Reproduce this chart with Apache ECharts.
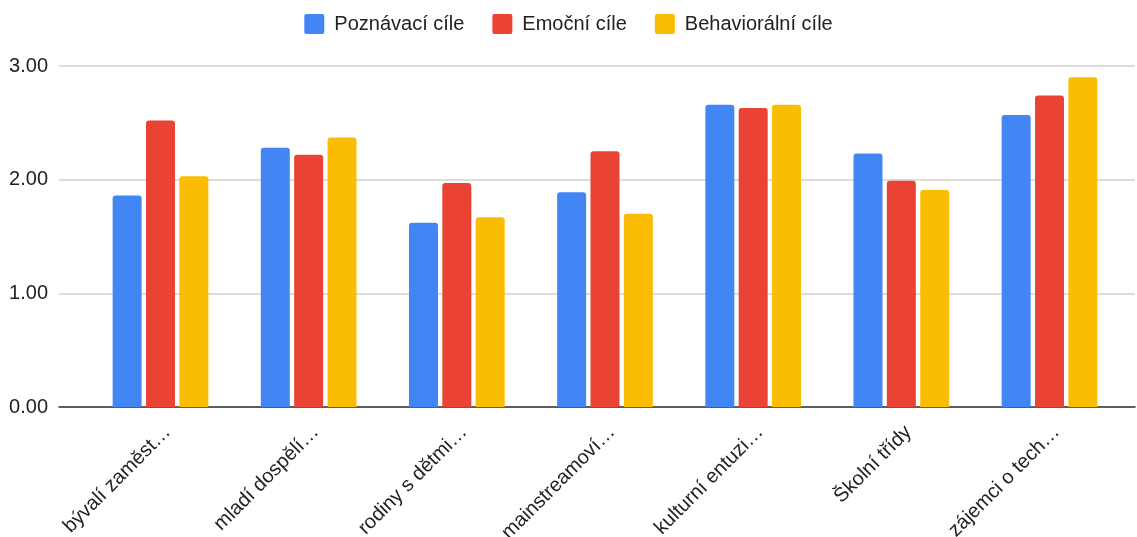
<!DOCTYPE html>
<html>
<head>
<meta charset="utf-8">
<script src="https://cdn.jsdelivr.net/npm/echarts@6/dist/echarts.min.js"></script>
<style>
html,body{margin:0;padding:0;background:#fff;}
#chart{width:1137px;height:537px;}
</style>
</head>
<body>
<div id="chart"></div>
<script>
const categories = ['bývalí zaměst…','mladí dospělí…','rodiny s dětmi…','mainstreamoví…','kulturní entuzi…','Školní třídy','zájemci o tech…'];
const seriesNames = ['Poznávací cíle','Emoční cíle','Behaviorální cíle'];
const poznavaci = [1.86, 2.28, 1.62, 1.89, 2.66, 2.23, 2.57];
const emocni = [2.52, 2.22, 1.97, 2.25, 2.63, 1.99, 2.74];
const behavioralni = [2.03, 2.37, 1.67, 1.70, 2.66, 1.91, 2.90];
const yTicks = [0, 1, 2, 3];
const colors = ['#4285F4', '#EA4335', '#FBBC04'];

const FONT = '"Liberation Sans", Arial, sans-serif';
const chart = echarts.init(document.getElementById('chart'), null, {renderer: 'canvas'});
const values = [poznavaci, emocni, behavioralni];

chart.setOption({
  animation: false,
  color: colors,
  legend: {
    top: 9,
    left: 'center',
    itemWidth: 20,
    itemHeight: 20,
    itemGap: 28,
    icon: 'path://M2,0 L18,0 Q20,0 20,2 L20,18 Q20,20 18,20 L2,20 Q0,20 0,18 L0,2 Q0,0 2,0 Z',
    textStyle: {fontFamily: FONT, fontSize: 20, color: '#222', padding: [0, 0, 0, 5]},
    data: seriesNames
  },
  grid: [
    {left: 59, right: 2, top: 66, bottom: 130, containLabel: false, outerBoundsMode: 'none'},
    {left: 86.4, right: 13.4, top: 66, bottom: 130, containLabel: false, outerBoundsMode: 'none'}
  ],
  xAxis: [
    {type: 'category', gridIndex: 0, data: [''], axisLine: {show: true, lineStyle: {color: '#333', width: 1.5}},
     axisTick: {show: false}, axisLabel: {show: false}, splitLine: {show: false}},
    {type: 'category', gridIndex: 1, data: categories, axisLine: {show: false}, axisTick: {show: false},
     axisLabel: {rotate: 45, margin: 15, interval: 0, verticalAlign: 'top', align: 'right',
                 fontFamily: FONT, fontSize: 20, color: '#222'}}
  ],
  yAxis: [
    {type: 'value', gridIndex: 0, min: yTicks[0], max: yTicks[yTicks.length - 1], interval: 1,
     axisLine: {show: false}, axisTick: {show: false},
     axisLabel: {margin: 11, fontFamily: FONT, fontSize: 20, color: '#222', formatter: v => v.toFixed(2)},
     splitLine: {lineStyle: {color: '#d0d0d0', width: 1.5}}},
    {type: 'value', gridIndex: 1, min: yTicks[0], max: yTicks[yTicks.length - 1], interval: 1,
     axisLine: {show: false}, axisTick: {show: false}, axisLabel: {show: false}, splitLine: {show: false}}
  ],
  series: seriesNames.map((name, i) => ({
    name: name,
    type: 'bar',
    xAxisIndex: 1,
    yAxisIndex: 1,
    data: values[i],
    barWidth: 29,
    barGap: '15%',
    itemStyle: {color: colors[i], borderRadius: [3, 3, 0, 0]},
    z: 3
  }))
});
</script>
</body>
</html>
